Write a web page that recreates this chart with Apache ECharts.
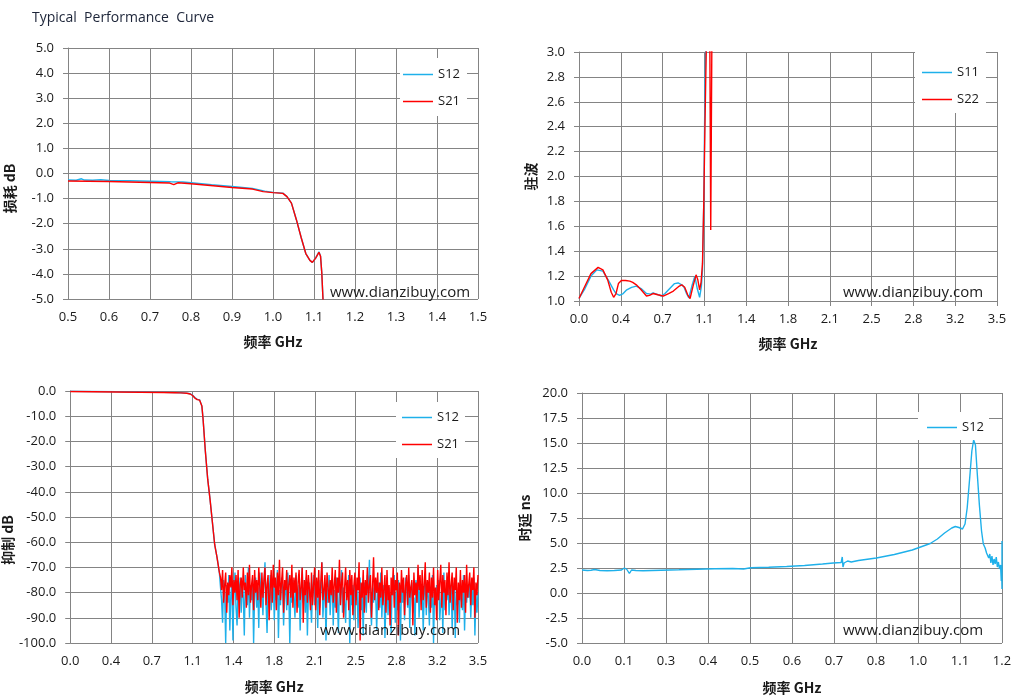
<!DOCTYPE html>
<html>
<head>
<meta charset="utf-8">
<title>Typical Performance Curve</title>
<script src="https://cdn.jsdelivr.net/npm/echarts@6.0.0/dist/echarts.min.js"></script>
<style>
  html, body { margin: 0; padding: 0; background: #fff; }
  #chart { width: 1017px; height: 697px; }
</style>
</head>
<body>
<div id="chart"></div>
<script>
// ---- data ----
// 损耗 (insertion loss), 0.5 - 1.5 GHz
var lossS12 = [[0.5,-0.26],[0.52,-0.27],[0.533,-0.21],[0.54,-0.26],[0.56,-0.27],[0.58,-0.25],[0.6,-0.28],
  [0.65,-0.29],[0.7,-0.31],[0.75,-0.33],[0.78,-0.34],[0.8,-0.37],[0.85,-0.45],[0.9,-0.52],[0.95,-0.6],
  [0.98,-0.7],[1.0,-0.75],[1.024,-0.78],[1.034,-0.92],[1.045,-1.18],[1.057,-1.84],[1.069,-2.57],
  [1.08,-3.19],[1.09,-3.46],[1.096,-3.54],[1.104,-3.37],[1.112,-3.12],[1.116,-3.3],[1.119,-3.96],
  [1.122,-5.03],[1.126,-6.5]];
var lossS21 = [[0.5,-0.3],[0.55,-0.31],[0.6,-0.32],[0.65,-0.34],[0.7,-0.36],[0.748,-0.38],[0.758,-0.44],
  [0.768,-0.37],[0.8,-0.41],[0.854,-0.49],[0.9,-0.56],[0.95,-0.62],[0.976,-0.72],[1.0,-0.76],[1.024,-0.79],
  [1.034,-0.92],[1.045,-1.18],[1.057,-1.84],[1.069,-2.57],[1.08,-3.19],[1.09,-3.46],[1.096,-3.54],
  [1.104,-3.37],[1.112,-3.14],[1.116,-3.3],[1.119,-3.96],[1.122,-5.03],[1.126,-6.5]];

// 驻波 (VSWR), 0 - 3.5 GHz
var vswrS11 = [[0,1.02],[0.05,1.1],[0.1,1.2],[0.15,1.25],[0.2,1.24],[0.25,1.16],[0.29,1.09],[0.31,1.06],
  [0.34,1.045],[0.37,1.06],[0.4,1.09],[0.44,1.11],[0.48,1.12],[0.52,1.1],[0.565,1.06],[0.6,1.055],
  [0.62,1.065],[0.65,1.055],[0.69,1.04],[0.72,1.06],[0.76,1.1],[0.8,1.14],[0.83,1.145],[0.86,1.13],
  [0.88,1.11],[0.9,1.06],[0.92,1.025],[0.945,1.12],[0.97,1.2],[0.99,1.1],[1.01,1.03],[1.025,1.12],
  [1.034,1.25],[1.045,1.8],[1.054,2.64],[1.062,3.1],[1.08,4],[1.2,8],[3.5,10]];
var vswrS22 = [[0,1.02],[0.05,1.12],[0.1,1.22],[0.16,1.27],[0.2,1.25],[0.24,1.17],[0.27,1.07],[0.29,1.03],
  [0.31,1.06],[0.33,1.14],[0.355,1.165],[0.39,1.165],[0.425,1.16],[0.45,1.15],[0.48,1.13],[0.52,1.09],
  [0.565,1.04],[0.59,1.045],[0.62,1.06],[0.66,1.05],[0.705,1.04],[0.75,1.06],[0.79,1.08],[0.84,1.12],
  [0.86,1.13],[0.885,1.11],[0.91,1.05],[0.93,1.02],[0.955,1.12],[0.98,1.21],[0.995,1.17],[1.01,1.09],
  [1.022,1.15],[1.034,1.3],[1.045,1.8],[1.054,2.37],[1.066,3.05],[1.08,4.5],[1.09,4],[1.096,3.0],
  [1.103,1.57],[1.112,3.0],[1.13,5],[3.5,10]];

// 抑制 (rejection), 0 - 3.5 GHz: pass band + roll-off, then noise floor
var rejS12Pass = [[0,-0.1],[0.2,-0.2],[0.4,-0.3],[0.6,-0.4],[0.8,-0.55],[0.9,-0.65],[0.95,-0.7],[1.0,-0.85],
  [1.03,-1.1],[1.05,-1.7],[1.07,-2.6],[1.09,-3.3],[1.11,-3.5],[1.12,-3.8],[1.13,-6],[1.14,-11],[1.16,-24],
  [1.18,-35],[1.2,-43],[1.22,-52],[1.24,-61],[1.26,-66],[1.27,-69],[1.28,-72]];
var rejS21Pass = [[0,-0.2],[0.2,-0.3],[0.4,-0.4],[0.6,-0.5],[0.8,-0.6],[0.9,-0.7],[0.95,-0.75],[1.0,-0.9],
  [1.03,-1.2],[1.05,-1.8],[1.07,-2.8],[1.09,-3.4],[1.11,-3.6],[1.12,-3.8],[1.13,-6],[1.14,-11],[1.16,-24],
  [1.18,-35],[1.2,-43],[1.22,-52],[1.24,-61],[1.26,-66],[1.27,-69],[1.28,-72]];
var noiseStart = 1.29, noiseEnd = 3.5;
var rejS12Noise = [
  -78,-83,-92,-75,-80,-100,-77,-84,-73,-95, -81,-76,-99,-79,-72,-86,-93,-78,-82,-74,
  -88,-76,-81,-97,-73,-79,-85,-70,-90,-77, -83,-75,-100,-80,-74,-86,-78,-94,-72,-81,
  -79,-89,-76,-68,-84,-96,-77,-82,-73,-87, -80,-75,-91,-78,-83,-71,-98,-79,-85,-74,
  -77,-93,-81,-76,-87,-72,-80,-100,-78,-84, -75,-82,-90,-73,-79,-86,-77,-95,-81,-70,
  -84,-78,-88,-74,-97,-80,-76,-83,-92,-79, -73,-85,-77,-81,-94,-75,-86,-79,-68,-90,
  -82,-76,-99,-78,-84,-73,-89,-80,-75,-93, -79,-86,-74,-82,-96,-77,-81,-71,-88,-78,
  -84,-92,-76,-80,-73,-100,-79,-85,-77,-91, -75,-83,-78,-94,-81,-74,-87,-79,-97,-76,
  -82,-88,-73,-80,-67,-85,-93,-78,-84,-75, -79,-95,-81,-76,-86,-72,-90,-80,-77,-98,
  -83,-74,-89,-78,-85,-96,-76,-81,-73,-92, -80,-87,-75,-82,-99,-77,-84,-79,-91,-74,
  -78,-86,-73,-94,-80,-76,-88,-82,-97,-75, -84,-70,-90,-79,-83,-77,-95,-81,-74,-89,
  -76,-82,-93,-78,-86,-73,-100,-80,-85,-77, -81,-75,-91,-84,-78,-96,-72,-87,-79,-83,
  -74,-89,-80,-77,-94,-82,-76,-98,-79,-85, -78,-92,-75,-83,-87,-73,-95,-80,-84,-77,
  -82,-76,-90,-79,-85,-74,-97,-81,-88,-80];
var rejS21Noise = [
  -74,-79,-71,-84,-77,-72,-88,-76,-81,-73, -78,-70,-85,-75,-80,-73,-83,-71,-90,-77,
  -74,-82,-70,-79,-76,-86,-72,-81,-69,-84, -77,-73,-87,-71,-80,-75,-83,-70,-78,-86,
  -72,-82,-75,-70,-85,-77,-73,-91,-79,-71, -84,-69,-78,-74,-87,-72,-81,-67,-83,-76,
  -70,-88,-75,-79,-71,-85,-77,-73,-82,-69, -86,-74,-80,-72,-88,-76,-71,-83,-78,-70,
  -92,-75,-81,-71,-84,-73,-79,-87,-72,-85, -77,-70,-87,-74,-82,-71,-89,-76,-68,-83,
  -79,-73,-86,-72,-78,-84,-75,-81,-70,-84, -77,-71,-88,-74,-80,-67,-85,-76,-72,-90,
  -78,-70,-83,-75,-87,-71,-81,-73,-89,-77, -72,-85,-74,-79,-68,-99,-76,-82,-71,-88,
  -75,-81,-70,-84,-77,-73,-90,-78,-66,-83, -74,-80,-72,-87,-76,-82,-70,-85,-79,-73,
  -88,-71,-83,-77,-93,-74,-81,-70,-86,-75, -79,-72,-97,-76,-84,-71,-80,-74,-89,-77,
  -73,-85,-70,-82,-78,-75,-93,-72,-81,-76, -84,-69,-79,-73,-87,-71,-83,-77,-68,-86,
  -75,-80,-72,-88,-74,-82,-70,-85,-78,-91, -71,-83,-76,-69,-86,-73,-80,-75,-89,-72,
  -81,-68,-84,-77,-72,-87,-74,-79,-70,-92, -76,-83,-71,-86,-75,-80,-73,-88,-69,-82,
  -77,-72,-85,-74,-79,-70,-90,-76,-81,-73];

// 时延 (group delay), axis shown 0.03 - 1.2 GHz
var delayS12 = [[0.03,2.3],[0.045,2.25],[0.055,2.28],[0.06,2.1],[0.065,2.35],[0.08,2.25],[0.1,2.22],
  [0.12,2.25],[0.14,2.3],[0.148,2.5],[0.155,2.35],[0.162,1.95],[0.168,2.3],[0.18,2.25],[0.2,2.22],
  [0.25,2.28],[0.3,2.32],[0.35,2.38],[0.4,2.42],[0.45,2.45],[0.48,2.4],[0.5,2.52],[0.55,2.58],[0.6,2.65],
  [0.65,2.75],[0.7,2.9],[0.73,3.0],[0.752,3.05],[0.755,3.6],[0.757,2.6],[0.76,3.0],[0.77,3.2],[0.78,3.1],
  [0.8,3.25],[0.85,3.5],[0.9,3.85],[0.95,4.3],[1.0,4.95],[1.02,5.4],[1.04,6.0],[1.06,6.5],[1.07,6.65],
  [1.08,6.55],[1.09,6.4],[1.097,6.9],[1.103,8.5],[1.11,11.5],[1.116,14.2],[1.121,15.3],[1.126,14.8],
  [1.131,12.0],[1.137,8.8],[1.143,6.2],[1.148,4.9],[1.153,4.5],[1.157,4.0],[1.16,4.2],[1.163,3.5],
  [1.166,3.9],[1.169,3.0],[1.172,3.7],[1.175,2.8],[1.178,3.4],[1.181,2.9],[1.184,3.6],[1.187,2.6],
  [1.19,3.1],[1.193,2.4],[1.196,2.8],[1.198,1.2],[1.199,2.6],[1.2,0.4],[1.2,5.2]];
var delayAxisStart = 0.03;

// ---- styling ----
var BLUE = '#1eb0ea', RED = '#ff0000';
var TXT = '#1a1a1a', GRID = '#848484';
var FONT = '"Open Sans", "DejaVu Sans", sans-serif';
var CJK = '"Noto Sans CJK SC", "Open Sans", sans-serif';

function fmt1(v) { return (Math.round(v * 10 + 1e-6) / 10).toFixed(1); }

function noisePairs(values) {
  var step = (noiseEnd - noiseStart) / (values.length - 1);
  return values.map(function (v, i) { return [noiseStart + i * step, v]; });
}

function xAxis(grid, min, max, interval, formatter, gap) {
  return {
    gridIndex: grid, type: 'value', min: min, max: max, interval: interval,
    name: '频率 GHz', nameLocation: 'middle', nameGap: gap,
    nameTextStyle: { fontFamily: CJK, fontSize: 14, fontWeight: 'bold', color: TXT },
    axisLine: { show: true, lineStyle: { color: GRID, width: 1 } },
    axisTick: { show: true, length: 5, lineStyle: { color: GRID } },
    axisLabel: { formatter: formatter, margin: 12, fontFamily: FONT, fontSize: 13, color: TXT },
    splitLine: { show: true, lineStyle: { color: GRID, width: 1 } }
  };
}

function yAxis(grid, name, min, max, interval, gap, shift) {
  return {
    gridIndex: grid, type: 'value', min: min, max: max, interval: interval,
    name: name, nameLocation: 'middle', nameGap: gap,
    nameTextStyle: { fontFamily: CJK, fontSize: 14, fontWeight: 'bold', color: TXT, padding: [0, shift, 0, 0] },
    axisLine: { show: true, lineStyle: { color: GRID, width: 1 } },
    axisTick: { show: true, length: 5, lineStyle: { color: GRID } },
    axisLabel: { formatter: function (v) { return v.toFixed(1); }, margin: 14, fontFamily: FONT, fontSize: 13, color: TXT },
    splitLine: { show: true, lineStyle: { color: GRID, width: 1 } }
  };
}

function legend(left, top, padding, names) {
  return {
    orient: 'vertical', left: left, top: top, padding: padding, data: names,
    backgroundColor: '#fff', icon: 'rect', itemWidth: 30, itemHeight: 1.5, itemGap: 14,
    selectedMode: false,
    textStyle: { fontFamily: FONT, fontSize: 13, color: TXT }
  };
}

function line(name, idx, data, color) {
  return {
    name: name, type: 'line', xAxisIndex: idx, yAxisIndex: idx, data: data,
    showSymbol: false, symbol: 'none', clip: true,
    lineStyle: { color: color, width: 1.4 }, itemStyle: { color: color }
  };
}

function mark(x, y) {
  return {
    type: 'text', x: x, y: y, z: 100, silent: true,
    style: { text: 'www.dianzibuy.com', font: '15px ' + FONT, fill: TXT, verticalAlign: 'middle' }
  };
}

var delayData = delayS12.map(function (p) { return [p[0] - delayAxisStart, p[1]]; });

var chart = echarts.init(document.getElementById('chart'));
chart.setOption({
  animation: false,
  backgroundColor: '#fff',
  title: {
    text: 'Typical  Performance  Curve', left: 32, top: 11, padding: 0,
    textStyle: { fontFamily: FONT, fontSize: 14, fontWeight: 'normal', color: '#1c2438' }
  },
  grid: [
    { left: 68, top: 48, width: 410, height: 251 },
    { left: 579, top: 52, width: 418, height: 249 },
    { left: 68, top: 391, width: 410, height: 252 },
    { left: 582, top: 393, width: 420, height: 250 }
  ],
  xAxis: [
    xAxis(0, 0.5, 1.5, 0.1, function (v) { return v.toFixed(1); }, 36),
    xAxis(1, 0, 3.5, 0.35, fmt1, 36),
    xAxis(2, 0, 3.5, 0.35, fmt1, 37),
    xAxis(3, 0, 1.2 - delayAxisStart, 0.117, function (v) { return fmt1(v + delayAxisStart); }, 38)
  ],
  yAxis: [
    yAxis(0, '损耗 dB', -5, 5, 1, 51, 30),
    yAxis(1, '驻波', 1, 3, 0.2, 41, 0),
    yAxis(2, '抑制 dB', -100, 0, 10, 51, 46),
    yAxis(3, '时延 ns', -5, 20, 2.5, 50, 0)
  ],
  legend: [
    legend(400, 58, [10, 7, 8, 3], ['S12', 'S21']),
    legend(915, 52, [14, 7, 7, 7], ['S11', 'S22']),
    legend(396, 402, [9, 6, 7, 6], ['S12', 'S21']),
    legend(918, 412, [9, 5, 6, 9], ['S12'])
  ],
  graphic: [mark(330, 293), mark(843, 293), mark(320, 631), mark(843, 631)],
  series: [
    line('S12', 0, lossS12, BLUE),
    line('S21', 0, lossS21, RED),
    line('S11', 1, vswrS11, BLUE),
    line('S22', 1, vswrS22, RED),
    line('S12', 2, rejS12Pass.concat(noisePairs(rejS12Noise)), BLUE),
    line('S21', 2, rejS21Pass.concat(noisePairs(rejS21Noise)), RED),
    line('S12', 3, delayData, BLUE)
  ]
});
</script>
</body>
</html>
